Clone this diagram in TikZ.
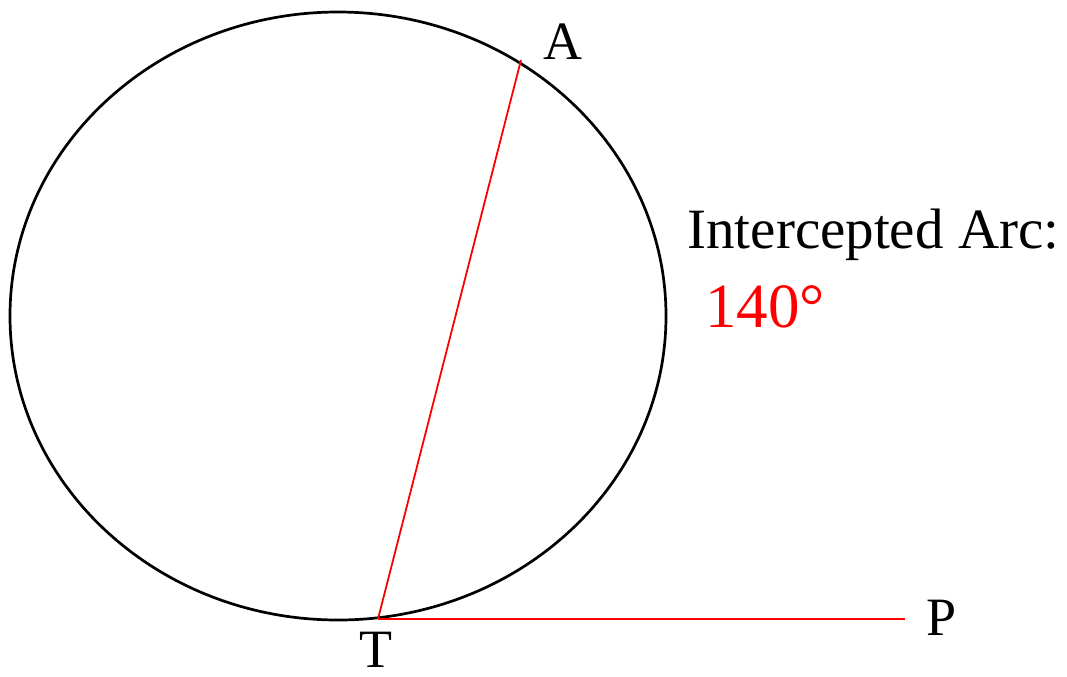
\documentclass[tikz,border=0pt]{standalone}
\usepackage{fontspec}
\setmainfont{Liberation Serif}
\usepackage{tikz}
\usetikzlibrary{positioning}
\definecolor{arcred}{HTML}{FF0000}
\tikzset{
  geo/circle/.style={draw=black, line width=1.35pt},
  geo/chord/.style={draw=arcred, line width=0.9pt},
  geo/point/.style={font=\fontsize{27}{30}\selectfont, inner sep=0pt},
  geo/label/.style={font=\fontsize{28.5}{31}\selectfont, inner sep=0pt, anchor=base west},
  geo/value/.style={font=\fontsize{31.5}{34}\selectfont, text=arcred, inner sep=0pt, anchor=base west}
}

\begin{document}
\begin{tikzpicture}[x=0.5pt, y=-0.5pt]
  \useasboundingbox (0,0) rectangle (1067,676);
  \node[draw=none, inner sep=0pt] (ctr) at (338,316) {};
  \draw[geo/circle] (ctr) ellipse [x radius=328, y radius=304];

  \coordinate (T) at (378,619);
  \coordinate (A) at (521,60);
  \coordinate (P) at (905,619);
  \draw[geo/chord] (T) -- (A);
  \draw[geo/chord] (T) -- (P);

  \node[geo/point, anchor=base west] (lblA) at (543,59) {A};
  \node[geo/point, anchor=base] (lblT) at (376,667) {T};
  \node[geo/point, anchor=base west] (lblP) at (926,635) {P};

  \node[geo/label] (arcText) at (687,248) {Intercepted Arc:};
  \node[geo/value] (arcVal) at (705,327) {140°};
\end{tikzpicture}
\end{document}
